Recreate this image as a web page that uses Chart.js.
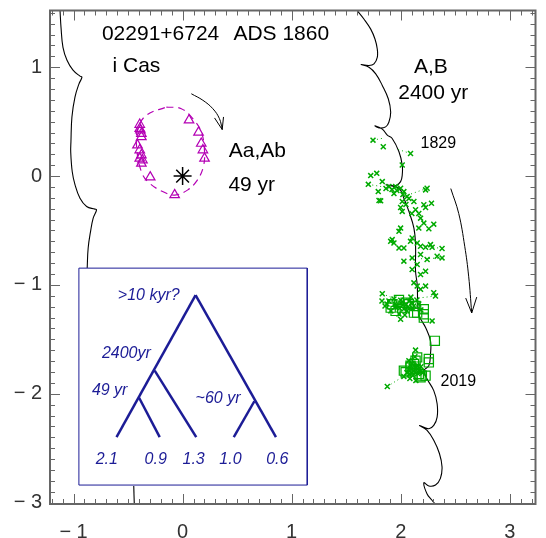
<!DOCTYPE html>
<html>
<head>
<meta charset="utf-8">
<script src="https://cdn.jsdelivr.net/npm/chart.js@4"></script>
<style>
  body { margin: 0; background: #fff; }
  canvas { display: block; }
</style>
</head>
<body>
<canvas id="chartOrbit" width="546" height="538"></canvas>
<script>
// axis ranges (arcsec) and tick labels
const xRange = [-1.216, 3.236];
const yRange = [-3.013, 1.521];
const xTickValues = [-1, 0, 1, 2, 3];
const yTickValues = [-3, -2, -1, 0, 1];

// wobbly A,B path (black)
const pathRight = [
    [1.602, 1.518], [1.664, 1.441], [1.725, 1.350], [1.764, 1.259], [1.785, 1.167],
    [1.785, 1.091], [1.755, 1.030], [1.709, 1.016], [1.636, 1.025], [1.709, 1.000],
    [1.771, 0.939], [1.831, 0.833], [1.886, 0.710], [1.908, 0.589], [1.892, 0.497],
    [1.862, 0.452], [1.801, 0.442], [1.764, 0.461], [1.831, 0.431], [1.877, 0.376],
    [1.922, 0.345], [1.984, 0.223], [2.014, 0.101], [2.014, 0.010], [1.999, -0.051],
    [1.953, -0.088], [1.865, -0.081], [1.984, -0.112], [2.029, -0.204], [2.075, -0.325],
    [2.121, -0.478], [2.136, -0.630], [2.136, -0.874], [2.151, -0.995], [2.166, -1.270],
    [2.228, -1.392], [2.273, -1.514], [2.273, -1.635], [2.258, -1.742], [2.212, -1.788],
    [2.242, -1.864], [2.303, -1.971], [2.334, -2.092], [2.334, -2.215], [2.303, -2.291],
    [2.258, -2.321], [2.173, -2.291], [2.242, -2.336], [2.303, -2.428], [2.355, -2.549],
    [2.379, -2.672], [2.364, -2.778], [2.319, -2.839], [2.258, -2.848], [2.212, -2.818],
    [2.242, -2.921], [2.285, -2.976], [2.322, -3.022]
];
const pathLeftTop = [
    [-1.124, 1.521], [-1.115, 1.366], [-1.097, 1.183], [-1.060, 1.064], [-1.005, 0.973],
    [-0.941, 0.918], [-0.923, 0.909], [-0.951, 0.845], [-0.987, 0.726], [-1.015, 0.543],
    [-1.024, 0.314], [-1.026, 0.223], [-1.012, 0.040], [-0.987, -0.078], [-0.941, -0.204],
    [-0.880, -0.280], [-0.804, -0.304], [-0.789, -0.310], [-0.820, -0.387], [-0.844, -0.508],
    [-0.866, -0.661], [-0.875, -0.844]
];
const pathLeftBottom = [[-0.448, -2.848], [-0.443, -3.02]];

// Aa,Ab orbit (dashed magenta) and measures (triangles)
const innerOrbit = [
    [-0.149, 0.634], [-0.012, 0.619], [0.094, 0.527], [0.171, 0.406], [0.201, 0.223],
    [0.186, 0.070], [0.125, -0.051], [0.048, -0.127], [-0.058, -0.173], [-0.149, -0.158],
    [-0.302, -0.067], [-0.378, 0.040], [-0.423, 0.284], [-0.409, 0.436], [-0.332, 0.559],
    [-0.149, 0.634]
];
const innerMeasures = [
    [-0.393, 0.473], [-0.393, 0.436], [-0.387, 0.421], [-0.378, 0.390], [-0.378, 0.360],
    [-0.414, 0.284], [-0.393, 0.239], [-0.378, 0.193], [-0.393, 0.162], [-0.368, 0.147],
    [-0.378, 0.116], [-0.297, -0.010], [0.059, 0.513], [0.146, 0.401], [0.171, 0.299],
    [0.186, 0.239], [0.201, 0.162], [-0.073, -0.173]
];
const primary = [[0, 0]];

// A,B measures: micrometer / visual (crosses) and speckle (squares)
const outerVisual = [
    [1.746, 0.330], [1.840, 0.269], [2.090, 0.207], [2.014, 0.101], [1.725, 0.004],
    [1.780, 0.025], [1.703, -0.076], [1.831, -0.051], [1.794, -0.143], [1.816, -0.228],
    [1.801, -0.225], [1.892, -0.097], [1.953, -0.097], [1.999, -0.112], [2.029, -0.143],
    [2.242, -0.112], [2.228, -0.127], [2.059, -0.188], [2.014, -0.234], [2.121, -0.234],
    [2.212, -0.264], [2.228, -0.289], [2.282, -0.250], [1.999, -0.289], [2.014, -0.325],
    [2.136, -0.310], [2.182, -0.387], [2.212, -0.432], [1.999, -0.478], [1.984, -0.508],
    [2.166, -0.478], [2.258, -0.484], [2.303, -0.442], [2.105, -0.569], [1.922, -0.584],
    [1.908, -0.600], [1.938, -0.615], [2.090, -0.600], [2.151, -0.615], [2.182, -0.645],
    [2.228, -0.654], [2.273, -0.630], [2.288, -0.654], [2.379, -0.666], [1.984, -0.661],
    [2.029, -0.661], [2.029, -0.782], [2.105, -0.752], [2.182, -0.721], [2.242, -0.767],
    [2.334, -0.737], [2.379, -0.752], [2.151, -0.813], [2.228, -0.874], [2.105, -0.858],
    [2.182, -0.904], [2.121, -0.981], [2.151, -1.011], [2.228, -1.011], [2.182, -1.041],
    [2.303, -1.072], [2.319, -1.102], [1.831, -1.081], [1.828, -1.148], [1.874, -1.175],
    [1.938, -1.130], [1.965, -1.194], [2.002, -1.166], [2.029, -1.221], [2.075, -1.148],
    [2.093, -1.112], [2.057, -1.239], [2.121, -1.194], [2.166, -1.175], [1.984, -1.267],
    [1.910, -1.239], [1.999, -1.315], [2.288, -1.331], [1.856, -1.194], [1.892, -1.148],
    [1.947, -1.175], [2.020, -1.185], [2.066, -1.203], [2.102, -1.166], [2.148, -1.139],
    [2.185, -1.230], [2.038, -1.276], [2.136, -1.599], [1.877, -1.934], [2.057, -1.806],
    [2.093, -1.770], [2.148, -1.742], [2.111, -1.833], [2.166, -1.788], [2.075, -1.696],
    [2.130, -1.660], [2.185, -1.751], [2.029, -1.842], [2.203, -1.806], [2.084, -1.860],
    [2.139, -1.879], [2.102, -1.724], [2.157, -1.815], [1.865, -0.115], [1.920, -0.124],
    [1.965, -0.133], [1.938, -0.161], [2.020, -0.170], [2.075, -0.207], [2.048, -0.261],
    [2.102, -0.344], [2.166, -0.344], [2.070, -1.780], [2.120, -1.790], [2.100, -1.810],
    [2.140, -1.760], [2.080, -1.820], [2.125, -1.745], [2.160, -1.770], [2.095, -1.745],
    [1.950, -1.200], [1.990, -1.215], [2.050, -1.180], [2.110, -1.215], [2.000, -1.140]
];
const outerSpeckle = [
    [1.908, -1.209], [1.922, -1.178], [2.045, -1.164], [2.075, -1.178], [2.136, -1.194],
    [2.212, -1.224], [2.212, -1.270], [2.212, -1.301], [2.121, -1.255], [2.014, -1.209],
    [1.953, -1.239], [2.151, -1.255], [1.984, -1.139], [2.313, -1.514], [2.151, -1.666],
    [2.258, -1.681], [2.045, -1.803], [2.090, -1.758], [2.136, -1.772], [2.182, -1.849],
    [2.228, -1.834], [2.258, -1.712], [2.121, -1.727], [2.166, -1.818], [2.029, -1.788],
    [2.136, -1.696], [2.194, -1.834], [2.090, -1.742]
];
// dotted residuals from a few measures toward the path
const residuals = [
    [[1.877, -1.934], [2.040, -1.830]],
    [[1.746, 0.330], [1.850, 0.350]],
    [[2.090, 0.207], [1.960, 0.250]],
    [[2.379, -0.666], [2.200, -0.640]],
    [[2.379, -0.752], [2.180, -0.760]],
    [[1.703, -0.076], [1.900, -0.110]],
    [[2.242, -0.112], [2.050, -0.180]],
    [[1.831, -1.081], [2.000, -1.150]],
    [[2.319, -1.102], [2.170, -1.120]]
];

// direction-of-motion arrows
const arrowInner = [[0.080, 0.756], [0.186, 0.696], [0.277, 0.619], [0.338, 0.527], [0.363, 0.427]];
const arrowInnerHead = [[0.293, 0.534], [0.363, 0.427], [0.375, 0.543]];
const arrowOuter = [[2.459, -0.115], [2.532, -0.344], [2.587, -0.645], [2.623, -0.920], [2.651, -1.258]];
const arrowOuterHead = [[2.596, -1.121], [2.651, -1.258], [2.697, -1.112]];

// hierarchy inset
const treeBox = [[-0.951, -0.846], [1.143, -0.846], [1.143, -2.839], [-0.951, -2.839], [-0.951, -0.846]];
const treeBranches = [
    [[0.119, -1.094], [-0.606, -2.398]],
    [[0.119, -1.094], [0.856, -2.398]],
    [[-0.399, -2.037], [-0.210, -2.398]],
    [[-0.256, -1.788], [0.125, -2.398]],
    [[0.658, -2.069], [0.469, -2.398]]
];
const leafMasses = ["2.1", "0.9", "1.3", "1.0", "0.6"];
const leafX = [-0.695, -0.247, 0.101, 0.439, 0.868];

const INK = "#000";
const MAGENTA = "rgb(180,0,180)";
const GREEN = "rgb(0,170,0)";
const NAVY = "rgb(28,28,150)";
const BIG = "21px 'Liberation Sans', Arial, sans-serif";
const SMALL = "16px 'Liberation Sans', Arial, sans-serif";
const TREE = "italic 16px 'Liberation Sans', Arial, sans-serif";

const notes = [
    { text: "02291+6724", x: -0.740, y: 1.247, font: BIG, color: INK },
    { text: "ADS 1860", x: 0.466, y: 1.247, font: BIG, color: INK },
    { text: "i Cas", x: -0.643, y: 0.954, font: BIG, color: INK },
    { text: "Aa,Ab", x: 0.423, y: 0.171, font: BIG, color: INK },
    { text: "49 yr", x: 0.420, y: -0.133, font: BIG, color: INK },
    { text: "A,B", x: 2.121, y: 0.948, font: BIG, color: INK },
    { text: "2400 yr", x: 1.977, y: 0.710, font: BIG, color: INK },
    { text: "1829", x: 2.182, y: 0.260, font: SMALL, color: INK },
    { text: "2019", x: 2.365, y: -1.931, font: SMALL, color: INK },
    { text: ">10 kyr?", x: -0.594, y: -1.143, font: TREE, color: NAVY },
    { text: "2400yr", x: -0.740, y: -1.676, font: TREE, color: NAVY },
    { text: "49 yr", x: -0.832, y: -2.016, font: TREE, color: NAVY },
    { text: "~60 yr", x: 0.119, y: -2.083, font: TREE, color: NAVY }
];
leafMasses.forEach((m, i) => {
    notes.push({ text: m, x: leafX[i], y: -2.647, font: TREE, color: NAVY, align: "center" });
});

function pts(list) {
    return list.map(([x, y]) => ({ x, y }));
}

function lineSet(list, color, width, extra) {
    return Object.assign({
        data: pts(list),
        showLine: true,
        borderColor: color,
        borderWidth: width,
        pointRadius: 0,
        fill: false,
        tension: 0
    }, extra || {});
}

function minusLabel(v) {
    return v < 0 ? "\u2212 " + Math.abs(v) : String(v);
}

// IDL style frame: box plus inward ticks on all four sides
const framePlugin = {
    id: "frame",
    afterDatasetsDraw(chart) {
        const { ctx, chartArea: a, scales: { x, y } } = chart;
        ctx.save();
        ctx.strokeStyle = "#666";
        ctx.lineWidth = 1;
        for (let i = Math.ceil(xRange[0] * 10); i <= Math.floor(xRange[1] * 10); i++) {
            const px = Math.round(x.getPixelForValue(i / 10)) + 0.5;
            const len = i % 10 === 0 ? 10 : 5;
            ctx.beginPath();
            ctx.moveTo(px, a.bottom); ctx.lineTo(px, a.bottom - len);
            ctx.moveTo(px, a.top); ctx.lineTo(px, a.top + len);
            ctx.stroke();
        }
        for (let i = Math.ceil(yRange[0] * 10); i <= Math.floor(yRange[1] * 10); i++) {
            const py = Math.round(y.getPixelForValue(i / 10)) + 0.5;
            const len = i % 10 === 0 ? 10 : 5;
            ctx.beginPath();
            ctx.moveTo(a.left, py); ctx.lineTo(a.left + len, py);
            ctx.moveTo(a.right, py); ctx.lineTo(a.right - len, py);
            ctx.stroke();
        }
        ctx.lineWidth = 2;
        ctx.strokeRect(a.left, a.top, a.right - a.left, a.bottom - a.top);
        ctx.restore();
    }
};

const notesPlugin = {
    id: "notes",
    afterDatasetsDraw(chart) {
        const { ctx, scales: { x, y } } = chart;
        ctx.save();
        ctx.textBaseline = "alphabetic";
        notes.forEach((n) => {
            ctx.font = n.font;
            ctx.fillStyle = n.color;
            ctx.textAlign = n.align || "left";
            ctx.fillText(n.text, x.getPixelForValue(n.x), y.getPixelForValue(n.y));
        });
        ctx.restore();
    }
};

const datasets = [
    lineSet(treeBox, NAVY, 1),
    ...treeBranches.map((b) => lineSet(b, NAVY, 2.5)),
    {
        data: pts(primary),
        pointStyle: "star",
        pointRadius: 9,
        borderColor: INK,
        borderWidth: 1.5,
        backgroundColor: INK
    },
    {
        data: pts(innerMeasures),
        pointStyle: "triangle",
        pointRadius: 5.5,
        borderColor: MAGENTA,
        borderWidth: 1.2,
        backgroundColor: "rgba(0,0,0,0)"
    },
    lineSet(innerOrbit, MAGENTA, 1.2, { borderDash: [7, 5], tension: 0.4 }),
    {
        data: pts(outerSpeckle),
        pointStyle: "rect",
        pointRadius: 6.5,
        borderColor: GREEN,
        borderWidth: 1.2,
        backgroundColor: "rgba(0,0,0,0)"
    },
    {
        data: pts(outerVisual),
        pointStyle: "crossRot",
        pointRadius: 3.5,
        borderColor: GREEN,
        borderWidth: 1.5
    },
    ...residuals.map((r) => lineSet(r, GREEN, 1, { borderDash: [1, 3] })),
    lineSet(arrowInner, INK, 1, { tension: 0.4 }),
    lineSet(arrowInnerHead, INK, 1),
    lineSet(arrowOuter, INK, 1, { tension: 0.4 }),
    lineSet(arrowOuterHead, INK, 1),
    lineSet(pathRight, INK, 1.1, { tension: 0.4 }),
    lineSet(pathLeftTop, INK, 1.1, { tension: 0.4 }),
    lineSet(pathLeftBottom, INK, 1.1)
];

const tickFont = { family: "'Liberation Sans', Arial, sans-serif", size: 20 };

new Chart(document.getElementById("chartOrbit"), {
    type: "scatter",
    data: { datasets },
    options: {
        responsive: false,
        animation: false,
        layout: { padding: { top: 8, right: 9, left: 0, bottom: 0 } },
        plugins: { legend: { display: false }, tooltip: { enabled: false } },
        scales: {
            x: {
                type: "linear",
                min: xRange[0],
                max: xRange[1],
                grid: { display: false, drawTicks: false },
                border: { display: false },
                afterFit: (s) => { s.height = 34; s.paddingLeft = 0; s.paddingRight = 0; },
                afterBuildTicks: (s) => { s.ticks = xTickValues.map((v) => ({ value: v })); },
                ticks: {
                    autoSkip: false,
                    maxRotation: 0,
                    padding: 16,
                    color: "#333",
                    font: tickFont,
                    callback: (v) => minusLabel(v)
                }
            },
            y: {
                type: "linear",
                min: yRange[0],
                max: yRange[1],
                grid: { display: false, drawTicks: false },
                border: { display: false },
                afterFit: (s) => { s.width = 50; s.paddingTop = 0; s.paddingBottom = 0; },
                afterBuildTicks: (s) => { s.ticks = yTickValues.map((v) => ({ value: v })); },
                ticks: {
                    autoSkip: false,
                    padding: 8,
                    color: "#333",
                    font: tickFont,
                    callback: (v) => minusLabel(v)
                }
            }
        }
    },
    plugins: [framePlugin, notesPlugin]
});
</script>
</body>
</html>
